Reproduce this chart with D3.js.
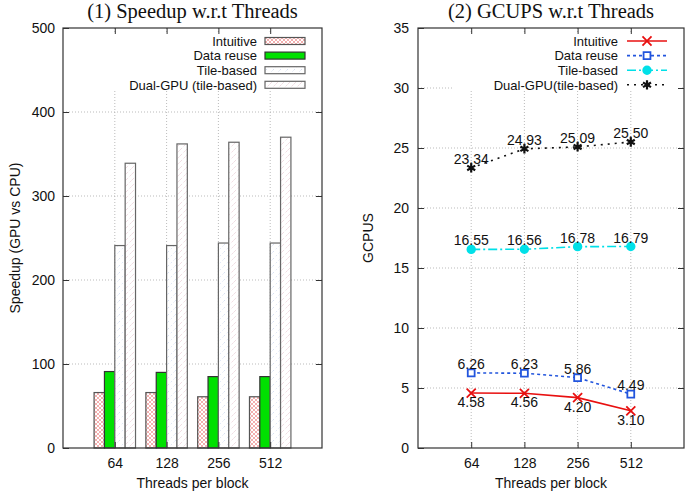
<!DOCTYPE html>
<html>
<head>
<meta charset="utf-8">
<script src="https://cdn.jsdelivr.net/npm/d3@7"></script>
<style>
  body { margin: 0; background: #fff; }
  svg text { font-family: "Liberation Sans", Arial, sans-serif; fill: #111; }
  .title { font-family: "Liberation Serif", "Times New Roman", serif; }
</style>
</head>
<body>
<svg id="chart" width="685" height="491"></svg>
<script>
const threads = ['64', '128', '256', '512'];

const speedupNames = ['Intuitive', 'Data reuse', 'Tile-based', 'Dual-GPU (tile-based)'];
const speedupIntuitive = [66, 66, 61, 61];
const speedupDataReuse = [91, 90, 85, 85];
const speedupTile = [241, 241, 244, 244];
const speedupDual = [339, 362, 364, 370];
const speedupTicks = [0, 100, 200, 300, 400, 500];

const gcupsNames = ['Intuitive', 'Data reuse', 'Tile-based', 'Dual-GPU(tile-based)'];
const gcupsIntuitive = [4.58, 4.56, 4.20, 3.10];
const gcupsDataReuse = [6.26, 6.23, 5.86, 4.49];
const gcupsTile = [16.55, 16.56, 16.78, 16.79];
const gcupsDual = [23.34, 24.93, 25.09, 25.50];
const gcupsTicks = [0, 5, 10, 15, 20, 25, 30, 35];

const svg = d3.select('#chart');
const defs = svg.append('defs');

// bar fill patterns
const hatch = (id, size, color, width, dash, cross) => {
    const p = defs.append('pattern').attr('id', id)
        .attr('patternUnits', 'userSpaceOnUse')
        .attr('width', size).attr('height', size);
    p.append('rect').attr('width', size).attr('height', size).attr('fill', '#fff');
    p.append('path').attr('d', `M0,${size} L${size},0 M${-size / 2},${size / 2} L${size / 2},${-size / 2} M${size / 2},${size * 1.5} L${size * 1.5},${size / 2}`)
        .attr('stroke', color).attr('stroke-width', width).attr('stroke-dasharray', dash);
    if (cross) {
        p.append('path').attr('d', `M0,0 L${size},${size} M${-size / 2},${size / 2} L${size / 2},${size * 1.5} M${size / 2},${-size / 2} L${size * 1.5},${size / 2}`)
            .attr('stroke', color).attr('stroke-width', width);
    }
};
hatch('pat-intuitive', 4, '#f09a9a', 0.8, null, true);
hatch('pat-tile', 7, '#b8c8e8', 0.8, '1,3', false);
hatch('pat-dual', 6, '#ecd4dc', 0.8, '3,2', false);

const barStyles = [
    {fill: 'url(#pat-intuitive)', stroke: '#555'},
    {fill: '#00e000', stroke: '#333'},
    {fill: 'url(#pat-tile)', stroke: '#666'},
    {fill: 'url(#pat-dual)', stroke: '#666'}
];

const lineStyles = [
    {color: '#e81010', dash: null, marker: 'times'},
    {color: '#2255dd', dash: '3,3', marker: 'square'},
    {color: '#00e0e8', dash: '9,3,2,3', marker: 'circle'},
    {color: '#111', dash: '2,5', marker: 'star'}
];

const PLOT = {top: 28, bottom: 448};
const KEY = {top: 41, step: 14.6, font: 13};

function drawFrame(g, xScale, yScale, ticks) {
    const [x0, x1] = xScale.range();

    // grid
    g.append('g').selectAll('line.hg').data(ticks.slice(1, -1)).enter().append('line')
        .attr('x1', x0).attr('x2', x1)
        .attr('y1', (d) => yScale(d)).attr('y2', (d) => yScale(d))
        .attr('stroke', '#aaa').attr('stroke-width', 0.8).attr('stroke-dasharray', '1,2');
    g.append('g').selectAll('line.vg').data(d3.range(threads.length)).enter().append('line')
        .attr('x1', (d) => xScale(d)).attr('x2', (d) => xScale(d))
        .attr('y1', PLOT.top).attr('y2', PLOT.bottom)
        .attr('stroke', '#aaa').attr('stroke-width', 0.8).attr('stroke-dasharray', '1,2');
}

function drawAxes(g, xScale, yScale, ticks, pad, ylabel, ylabelX, title) {
    const [x0, x1] = xScale.range();
    const clean = (sel) => {
        sel.select('.domain').remove();
        sel.selectAll('line').attr('stroke', '#333');
        sel.selectAll('text').attr('font-size', 14).style('font-family', '"Liberation Sans", Arial, sans-serif');
    };

    g.append('g').attr('transform', `translate(${x0},0)`)
        .call(d3.axisLeft(yScale).tickValues(ticks).tickSizeInner(-6).tickSizeOuter(0).tickPadding(pad))
        .call(clean);
    g.append('g').attr('transform', `translate(${x1},0)`)
        .call(d3.axisRight(yScale).tickValues(ticks.slice(1, -1)).tickSizeInner(-6).tickSizeOuter(0).tickFormat(''))
        .call(clean);
    g.append('g').attr('transform', `translate(0,${PLOT.bottom})`)
        .call(d3.axisBottom(xScale).tickValues(d3.range(threads.length)).tickSizeInner(-6).tickSizeOuter(0)
            .tickPadding(10).tickFormat((i) => threads[i]))
        .call(clean);
    g.append('g').attr('transform', `translate(0,${PLOT.top})`)
        .call(d3.axisTop(xScale).tickValues(d3.range(threads.length)).tickSizeInner(-6).tickSizeOuter(0).tickFormat(''))
        .call(clean);

    g.append('rect')
        .attr('x', x0).attr('y', PLOT.top)
        .attr('width', x1 - x0).attr('height', PLOT.bottom - PLOT.top)
        .attr('fill', 'none').attr('stroke', '#333').attr('stroke-width', 1.2);

    g.append('text')
        .attr('x', (x0 + x1) / 2).attr('y', 488)
        .attr('text-anchor', 'middle').attr('font-size', 14)
        .text('Threads per block');

    g.append('text')
        .attr('transform', `translate(${ylabelX},${(PLOT.top + PLOT.bottom) / 2}) rotate(-90)`)
        .attr('text-anchor', 'middle').attr('font-size', 14)
        .text(ylabel);

    g.append('text').attr('class', 'title')
        .attr('x', (x0 + x1) / 2).attr('y', 18)
        .attr('text-anchor', 'middle').attr('font-size', 20.5)
        .text(title);
}

function marker(type) {
    const sym = {
        times: d3.symbolTimes,
        square: d3.symbolSquare2,
        circle: d3.symbolCircle,
        star: d3.symbolAsterisk
    }[type];
    const size = {times: 55, square: 60, circle: 45, star: 60}[type];
    return d3.symbol(sym, size)();
}

// ---------- (1) Speedup bars ----------
const g1 = svg.append('g');
const x1 = d3.scaleLinear().domain([-1, 4]).range([63, 322]);
const y1 = d3.scaleLinear().domain([0, 500]).range([PLOT.bottom, PLOT.top]);
drawFrame(g1, x1, y1, speedupTicks);

const speedupSeries = [speedupIntuitive, speedupDataReuse, speedupTile, speedupDual];
const barW = 0.2;
speedupSeries.forEach((values, k) => {
    g1.append('g').selectAll('rect').data(values).enter().append('rect')
        .attr('x', (d, i) => x1(i - 0.4 + k * barW))
        .attr('width', x1(barW) - x1(0))
        .attr('y', (d) => y1(d))
        .attr('height', (d) => y1(0) - y1(d))
        .attr('fill', barStyles[k].fill)
        .attr('stroke', barStyles[k].stroke)
        .attr('stroke-width', 1.2);
});

// legend (opaque key box)
g1.append('rect').attr('x', 110).attr('y', 33).attr('width', 205).attr('height', 58).attr('fill', '#fff');
speedupNames.forEach((name, k) => {
    const cy = KEY.top + k * KEY.step;
    g1.append('text').attr('x', 257).attr('y', cy + 4.7)
        .attr('text-anchor', 'end').attr('font-size', KEY.font).text(name);
    g1.append('rect').attr('x', 265).attr('y', cy - 3.5).attr('width', 40).attr('height', 7)
        .attr('fill', barStyles[k].fill).attr('stroke', barStyles[k].stroke).attr('stroke-width', 1.2);
});
drawAxes(g1, x1, y1, speedupTicks, 8, 'Speedup (GPU vs CPU)', 20, '(1) Speedup w.r.t Threads');

// ---------- (2) GCUPS lines ----------
const g2 = svg.append('g');
const x2 = d3.scaleLinear().domain([-1, 4]).range([418, 684]);
const y2 = d3.scaleLinear().domain([0, 35]).range([PLOT.bottom, PLOT.top]);
drawFrame(g2, x2, y2, gcupsTicks);

const gcupsSeries = [gcupsIntuitive, gcupsDataReuse, gcupsTile, gcupsDual];
const line = d3.line().x((d, i) => x2(i)).y((d) => y2(d));

gcupsSeries.forEach((values, k) => {
    const st = lineStyles[k];
    g2.append('path').datum(values)
        .attr('d', line)
        .attr('fill', 'none')
        .attr('stroke', st.color)
        .attr('stroke-width', 1.6)
        .attr('stroke-dasharray', st.dash);
    g2.append('g').selectAll('path').data(values).enter().append('path')
        .attr('transform', (d, i) => `translate(${x2(i)},${y2(d)})`)
        .attr('d', marker(st.marker))
        .attr('fill', st.marker === 'circle' ? st.color : (st.marker === 'square' ? '#fff' : 'none'))
        .attr('stroke', st.color)
        .attr('stroke-width', st.marker === 'star' ? 2.2 : 1.8);
    // value labels: below for Intuitive, above for the rest
    g2.append('g').selectAll('text').data(values).enter().append('text')
        .attr('x', (d, i) => x2(i))
        .attr('y', (d) => y2(d) + (k === 0 ? 14 : -4))
        .attr('text-anchor', 'middle')
        .attr('font-size', 14)
        .text((d) => d.toFixed(2));
});

// legend
g2.append('rect').attr('x', 452).attr('y', 33).attr('width', 230).attr('height', 58).attr('fill', '#fff');
gcupsNames.forEach((name, k) => {
    const cy = KEY.top + k * KEY.step;
    const st = lineStyles[k];
    g2.append('text').attr('x', 618).attr('y', cy + 4.7)
        .attr('text-anchor', 'end').attr('font-size', KEY.font).text(name);
    g2.append('line').attr('x1', 627).attr('x2', 667).attr('y1', cy).attr('y2', cy)
        .attr('stroke', st.color).attr('stroke-width', 1.6).attr('stroke-dasharray', st.dash);
    g2.append('path').attr('transform', `translate(647,${cy})`)
        .attr('d', marker(st.marker))
        .attr('fill', st.marker === 'circle' ? st.color : (st.marker === 'square' ? '#fff' : 'none'))
        .attr('stroke', st.color)
        .attr('stroke-width', st.marker === 'star' ? 2.2 : 1.8);
});
drawAxes(g2, x2, y2, gcupsTicks, 9, 'GCPUS', 373, '(2) GCUPS w.r.t Threads');
</script>
</body>
</html>
